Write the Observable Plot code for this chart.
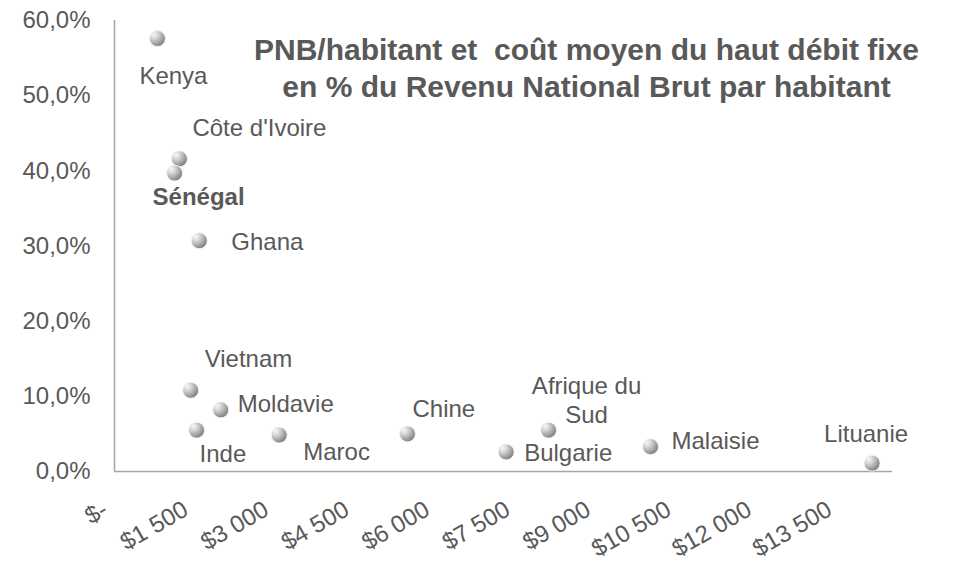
<!DOCTYPE html>
<html><head><meta charset="utf-8">
<script src="https://cdn.jsdelivr.net/npm/d3@7"></script>
<script src="https://cdn.jsdelivr.net/npm/@observablehq/plot@0.6"></script>
<style>
body{margin:0;background:#fff}
#chart{width:959px;height:563px;overflow:hidden}
svg text{white-space:pre}
</style>
</head><body><div id="chart"></div>
<script>
// ---- data ----
const countries = ["Kenya","Côte d'Ivoire","Sénégal","Ghana","Vietnam","Moldavie","Inde","Maroc","Chine","Bulgarie","Afrique du Sud","Malaisie","Lituanie"];
const gniPerCapita = [800, 1210, 1120, 1580, 1420, 1980, 1530, 3070, 5460, 7300, 8090, 9990, 14120];
const costPctGni = [57.6, 41.6, 39.7, 30.7, 10.8, 8.2, 5.5, 4.85, 5.0, 2.6, 5.5, 3.3, 1.1];
const xTicks = [0, 1500, 3000, 4500, 6000, 7500, 9000, 10500, 12000, 13500];
const yTicks = [0, 10, 20, 30, 40, 50, 60];
const titleLines = ["PNB/habitant et  coût moyen du haut débit fixe", "en % du Revenu National Brut par habitant"];
const highlighted = "Sénégal";

// ---- styles ----
const textColor = "#595959";
const axisColor = "#a6a6a6";
const font = "'Liberation Sans', Arial, sans-serif";
const labelFont = 24;
const labelPlacement = {
  "Kenya": {dx: 16, dy: 36, textAnchor: "middle"},
  "Côte d'Ivoire": {dx: 13, dy: -32, textAnchor: "start"},
  "Sénégal": {dx: -22, dy: 23, textAnchor: "start"},
  "Ghana": {dx: 32, dy: 0, textAnchor: "start"},
  "Vietnam": {dx: 14, dy: -33, textAnchor: "start"},
  "Moldavie": {dx: 17, dy: -7, textAnchor: "start"},
  "Inde": {dx: 3, dy: 23, textAnchor: "start"},
  "Maroc": {dx: 24, dy: 16, textAnchor: "start"},
  "Chine": {dx: 5, dy: -26, textAnchor: "start"},
  "Bulgarie": {dx: 18, dy: 0, textAnchor: "start"},
  "Afrique du Sud": {dx: 38, dy: -31, textAnchor: "middle", lineWidth: 5.2},
  "Malaisie": {dx: 21, dy: -7, textAnchor: "start"},
  "Lituanie": {dx: -6, dy: -30, textAnchor: "middle"}
};

const data = countries.map((c, i) => ({country: c, gni: gniPerCapita[i], pct: costPctGni[i]}));

const fmtX = d => d === 0 ? "$-" : "$" + d3.format(",")(d).replace(/,/g, " ");
const fmtY = d => d.toFixed(1).replace(".", ",") + "%";

const labelMarks = countries.map(c => {
  const p = labelPlacement[c];
  return Plot.text(data, {
    filter: d => d.country === c,
    x: "gni", y: "pct", text: "country",
    dx: p.dx, dy: p.dy, textAnchor: p.textAnchor, lineAnchor: "middle",
    lineWidth: p.lineWidth, lineHeight: 1.2,
    fontSize: labelFont,
    fontWeight: c === highlighted ? "bold" : "normal",
    fill: textColor
  });
});

const chart = Plot.plot({
  width: 959,
  height: 563,
  marginLeft: 114,
  marginRight: 67,
  marginTop: 20,
  marginBottom: 92,
  style: {fontFamily: font, color: textColor, background: "#fff", overflow: "visible"},
  x: {domain: [0, 14500], label: null},
  y: {domain: [0, 60], label: null},
  marks: [
    Plot.axisY({ticks: yTicks, tickFormat: fmtY, tickSize: 0, tickPadding: 24, fontSize: labelFont, fill: textColor, label: null}),
    Plot.axisX({ticks: xTicks, tickFormat: fmtX, tickSize: 0, tickPadding: 36, dx: -9, tickRotate: -30, fontSize: labelFont, fill: textColor, label: null}),
    Plot.ruleX([0], {stroke: axisColor, strokeWidth: 1.5}),
    Plot.ruleY([0], {stroke: axisColor, strokeWidth: 1.5}),
    Plot.text([titleLines.join("\n")], {
      frameAnchor: "top", dx: 83, dy: 46, lineAnchor: "middle", lineHeight: 1.23,
      fontSize: 30, fontWeight: "bold", fill: textColor
    }),
    Plot.dot(data, {x: "gni", y: "pct", r: 8, fill: "url(#ball)", stroke: "#f4f4f4", strokeWidth: 1}),
    ...labelMarks
  ]
});

const svg = d3.select(chart);
const defs = svg.insert("defs", ":first-child");
const g = defs.append("radialGradient").attr("id", "ball")
  .attr("cx", "30%").attr("cy", "28%").attr("r", "80%").attr("fx", "28%").attr("fy", "25%");
g.append("stop").attr("offset", "0%").attr("stop-color", "#f8f8f8");
g.append("stop").attr("offset", "35%").attr("stop-color", "#d2d2d2");
g.append("stop").attr("offset", "100%").attr("stop-color", "#777777");

document.getElementById("chart").appendChild(chart);
</script>
</body></html>
